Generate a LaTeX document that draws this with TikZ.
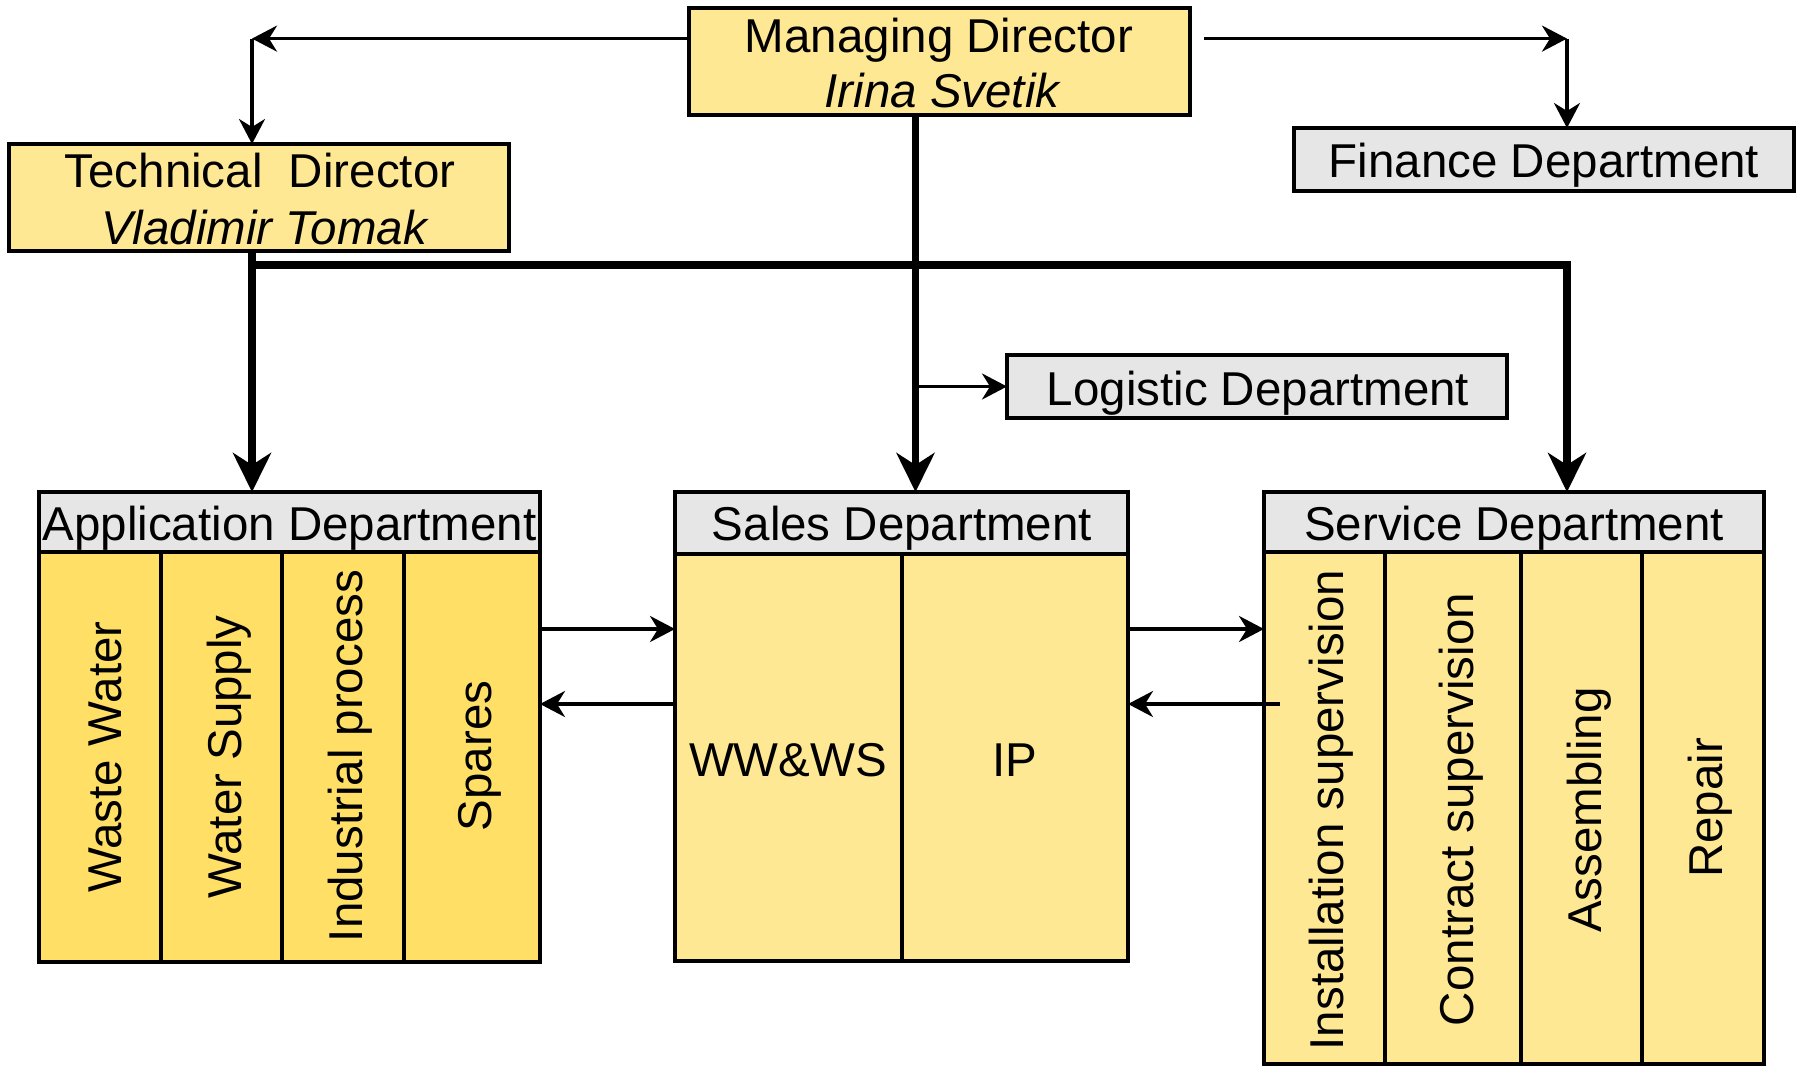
\documentclass[tikz,border=0pt]{standalone}
\usepackage{fontspec}
\setmainfont{Liberation Sans}
\usetikzlibrary{arrows.meta,calc}
\definecolor{ly}{HTML}{FFE894}
\definecolor{dy}{HTML}{FFDF66}
\definecolor{gh}{HTML}{E6E6E6}
\tikzset{
  bx/.style={draw, line width=1.7pt, inner sep=0pt, outer sep=0pt},
  ybox/.style={bx, fill=ly},
  dbox/.style={bx, fill=dy},
  gbox/.style={bx, fill=gh},
  txt/.style={inner sep=0pt, outer sep=0pt, anchor=base, font=\fontsize{23.75}{28}\selectfont},
  rtxt/.style={txt, rotate=90},
  tarr/.style={line width=1.75pt, -{Stealth[length=12.5pt,width=13pt,inset=4pt]}},
  karr/.style={line width=3.75pt, -{Stealth[length=19.5pt,width=19pt,inset=6pt]}},
  kline/.style={line width=3.75pt, line join=miter},
}
\begin{document}
\begin{tikzpicture}[x=0.5pt,y=-0.5pt]
\useasboundingbox[fill=white] (0,0) rectangle (1800,1067);
% boxes
\node[ybox, minimum width=250.5pt, minimum height=53.5pt] (md) at (939.5,61.5) {};
\node[ybox, minimum width=250pt, minimum height=53.5pt] (td) at (259,197.5) {};
\node[gbox, minimum width=250pt, minimum height=31.5pt] (fin) at (1544,159.5) {};
\node[gbox, minimum width=250pt, minimum height=31.5pt] (log) at (1257,386.5) {};
% application department
\node[gbox, minimum width=250.5pt, minimum height=30pt] (apph) at (289.5,522) {};
\node[dbox, minimum width=61pt, minimum height=205pt] (appc1) at (100,757) {};
\node[dbox, minimum width=60.5pt, minimum height=205pt] (appc2) at (221.5,757) {};
\node[dbox, minimum width=61pt, minimum height=205pt] (appc3) at (343,757) {};
\node[dbox, minimum width=68pt, minimum height=205pt] (appc4) at (472,757) {};
% sales department
\node[gbox, minimum width=226.5pt, minimum height=31pt] (salh) at (901.5,523) {};
\node[ybox, minimum width=113.5pt, minimum height=203.5pt] (salc1) at (788.5,757.5) {};
\node[ybox, minimum width=113pt, minimum height=203.5pt] (salc2) at (1015,757.5) {};
% service department
\node[gbox, minimum width=250pt, minimum height=30pt] (svh) at (1514,522) {};
\node[ybox, minimum width=60.5pt, minimum height=256pt] (svc1) at (1324.5,808) {};
\node[ybox, minimum width=68pt, minimum height=256pt] (svc2) at (1453,808) {};
\node[ybox, minimum width=60.5pt, minimum height=256pt] (svc3) at (1581.5,808) {};
\node[ybox, minimum width=61pt, minimum height=256pt] (svc4) at (1703,808) {};
% texts
\node[txt] (tmd1) at (939,52) {Managing Director};
\node[txt] (tmd2) at (942,107) {\itshape Irina Svetik};
\node[txt] (ttd1) at (260,187.5) {Technical\ \ Director};
\node[txt] (ttd2) at (264,244) {\itshape Vladimir Tomak};
\node[txt] (tfin) at (1544,177.5) {Finance Department};
\node[txt] (tlog) at (1258,405) {Logistic Department};
\node[txt] (tapp) at (289.5,540) {Application Department};
\node[txt] (tsal) at (902,540) {Sales Department};
\node[txt] (tsv) at (1514,540) {Service Department};
\node[txt] (tww) at (788,776) {WW\&WS};
\node[txt] (tip) at (1015,776) {IP};
\node[rtxt] (ta1) at (121.5,757) {Waste Water};
\node[rtxt] (ta2) at (241,757) {Water Supply};
\node[rtxt] (ta3) at (362,756) {Industrial process};
\node[rtxt] (ta4) at (491,756) {Spares};
\node[rtxt] (ts1) at (1343,810) {Installation supervision};
\node[rtxt] (ts2) at (1473,809.5) {Contract supervision};
\node[rtxt] (ts3) at (1601.5,810) {Assembling};
\node[rtxt] (ts4) at (1722,808) {Repair};
% helper coordinates
\coordinate (cL) at (252,38.6);
\coordinate (cR) at (1567,38.6);
\coordinate (cRs) at (1204,38.6);
\coordinate (bL) at (252,265);
\coordinate (bR) at (1567,265);
\coordinate (mx) at (915.5,115);
\coordinate (yA) at (0,629);
\coordinate (yB) at (0,704);
\coordinate (svin) at (1280,704);
% thin arrows at top
\draw[tarr] (md.west |- cL) -- (cL);
\draw[tarr] (cL) -- (cL |- td.north);
\draw[tarr] (cRs) -- (cR);
\draw[tarr] (cR) -- (cR |- fin.north);
% thick lines
\draw[karr] (cL |- td.south) -- (cL |- apph.north);
\draw[kline] (bL) -- (bR);
\draw[karr] ($(bR)+(0,-3.75)$) -- (bR |- svh.north);
\draw[karr] (mx |- md.south) -- (mx |- salh.north);
\draw[tarr] (mx |- log.west) -- (log.west);
% lateral arrows
\draw[tarr] (appc4.east |- yA) -- (salc1.west |- yA);
\draw[tarr] (salc1.west |- yB) -- (appc4.east |- yB);
\draw[tarr] (salc2.east |- yA) -- (svc1.west |- yA);
\draw[tarr] (svin) -- (salc2.east |- yB);
\end{tikzpicture}
\end{document}
